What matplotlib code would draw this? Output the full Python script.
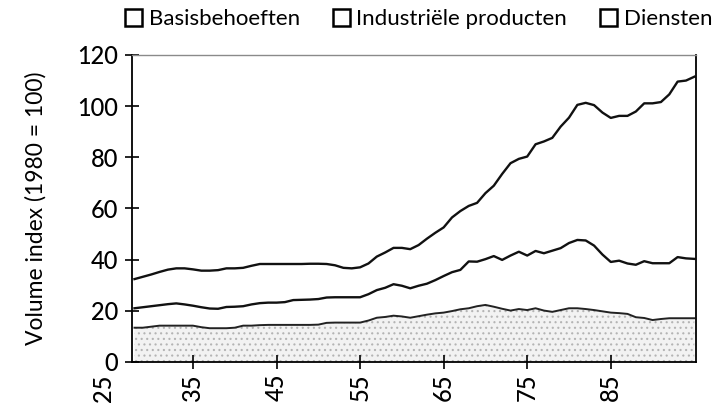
import matplotlib
matplotlib.use("Agg")
import matplotlib.pyplot as plt
from matplotlib.patches import Patch
from matplotlib.transforms import blended_transform_factory
import numpy as np

plt.rcParams['font.family'] = ['Lato', 'DejaVu Sans']

years = list(range(1928, 1996))

basisbehoeften = [13.4, 13.4, 13.8, 14.2, 14.2, 14.2, 14.2, 14.2, 13.6, 13.2,
                  13.2, 13.2, 13.4, 14.2, 14.2, 14.4, 14.5, 14.5, 14.5, 14.5,
                  14.5, 14.5, 14.6, 15.3, 15.4, 15.4, 15.4, 15.4, 16.2, 17.3,
                  17.6, 18.1, 17.8, 17.3, 17.9, 18.5, 19.0, 19.3, 19.9, 20.6,
                  21.0, 21.8, 22.3, 21.6, 20.8, 20.1, 20.7, 20.3, 21.0, 20.1,
                  19.6, 20.3, 21.0, 21.0, 20.7, 20.3, 19.8, 19.3, 19.1, 18.8,
                  17.5, 17.2, 16.4, 16.8, 17.1, 17.1, 17.1, 17.1]

industriele_producten = [7.6, 8.0, 8.0, 8.0, 8.4, 8.7, 8.3, 7.8, 7.8, 7.7,
                         7.6, 8.3, 8.2, 7.6, 8.3, 8.6, 8.7, 8.7, 8.9, 9.7,
                         9.8, 9.9, 10.0, 9.9, 9.9, 9.9, 9.9, 9.9, 10.3, 10.8,
                         11.4, 12.3, 12.0, 11.5, 11.9, 12.1, 13.0, 14.3, 15.2, 15.4,
                         18.3, 17.4, 17.9, 19.8, 19.1, 21.5, 22.4, 21.3, 22.4, 22.4,
                         23.9, 24.2, 25.5, 26.7, 26.8, 25.2, 22.2, 19.8, 20.5, 19.7,
                         20.5, 22.2, 22.2, 21.8, 21.5, 23.9, 23.4, 23.2]

diensten = [11.4, 11.9, 12.4, 13.0, 13.5, 13.7, 14.1, 14.2, 14.3, 14.8,
            15.1, 15.1, 15.0, 15.0, 15.1, 15.3, 15.1, 15.1, 14.9, 14.1,
            14.0, 14.0, 13.8, 13.1, 12.5, 11.5, 11.3, 11.7, 12.0, 13.1,
            13.8, 14.2, 14.8, 15.3, 15.9, 17.6, 18.5, 19.0, 21.4, 23.0,
            21.7, 23.0, 25.8, 27.5, 33.6, 36.1, 36.3, 38.7, 41.7, 43.7,
            44.1, 47.5, 49.0, 52.8, 53.8, 54.9, 55.5, 56.3, 56.6, 57.7,
            59.9, 61.7, 62.5, 63.0, 66.0, 68.6, 69.5, 71.2]

series_labels = ['Basisbehoeften', 'Industriële producten', 'Diensten']
y_ticks = [0, 20, 40, 60, 80, 100, 120]
x_ticks = [1935, 1945, 1955, 1965, 1975, 1985]
x_tick_labels = ['35', '45', '55', '65', '75', '85']
first_label_year = 1925
first_label = '25'
y_label = 'Volume index (1980 = 100)'

fig = plt.figure(figsize=(7.22, 4.07), dpi=100)
ax = fig.add_axes([0.1828, 0.1106, 0.7812, 0.7543])

x = np.array(years)
b = np.array(basisbehoeften)
m = b + np.array(industriele_producten)
t = m + np.array(diensten)

plt.rcParams['hatch.linewidth'] = 0.8
ax.fill_between(x, 0, b, facecolor='#f2f2f2', edgecolor='#b4b4b4', hatch='...', linewidth=0)
ax.plot(x, b, color='#222222', lw=1.4)
ax.plot(x, m, color='#111111', lw=1.7)
ax.plot(x, t, color='#111111', lw=1.7)

ax.set_xlim(years[0] - 0.3, years[-1] + 0.2)
ax.set_ylim(0, 120)
ax.set_yticks(y_ticks)
ax.set_yticklabels([str(v) for v in y_ticks], fontsize=17, fontweight='medium')
ax.set_xticks(x_ticks)
ax.set_xticklabels(x_tick_labels, fontsize=17, rotation=90, fontweight='medium')
ax.tick_params(axis='both', direction='inout', length=10, width=1.2, color='black')
ax.tick_params(axis='x', pad=3)
ax.tick_params(axis='y', pad=5)

trans = blended_transform_factory(ax.transData, ax.transAxes)
ax.text(first_label_year - 0.7, -0.04, first_label, transform=trans, rotation=90,
        ha='center', va='top', fontsize=17, fontweight='medium', clip_on=False)

for s in ['left', 'bottom', 'right']:
    ax.spines[s].set_color('black')
    ax.spines[s].set_linewidth(1.3)
ax.spines['top'].set_color('#8a8a8a')
ax.spines['top'].set_linewidth(1.0)

ax.set_ylabel(y_label, fontsize=16.5, labelpad=22)

handles = [Patch(facecolor='white', edgecolor='black', linewidth=1.8) for _ in series_labels]
fig.legend(handles, series_labels, loc='center', bbox_to_anchor=(0.58, 0.953), ncol=3,
           frameon=False, fontsize=16, handlelength=0.75, handleheight=0.75,
           handletextpad=0.3, columnspacing=1.5)

fig.savefig('out.png', dpi=100)
